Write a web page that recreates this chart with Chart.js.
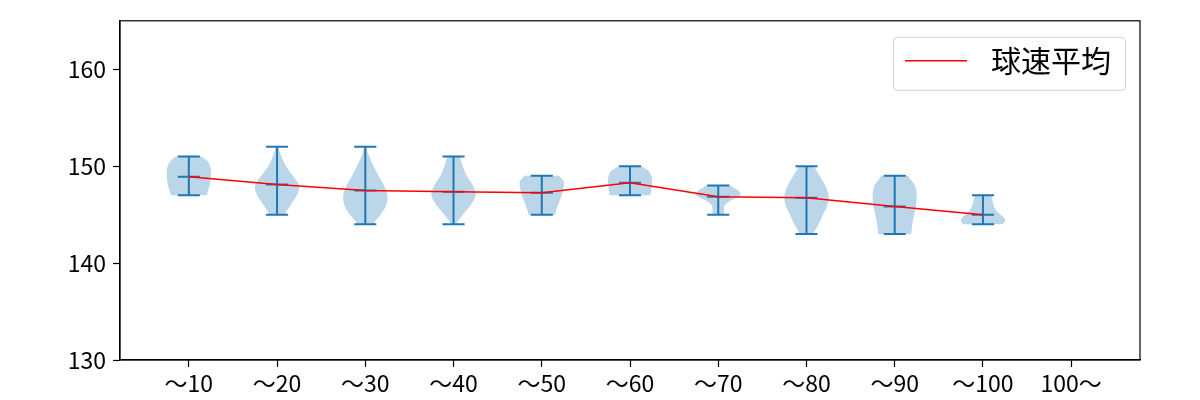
<!DOCTYPE html>
<html><head><meta charset="utf-8">
<script src="https://cdn.jsdelivr.net/npm/chart.js@4.4.1/dist/chart.umd.min.js"></script>
<style>html,body{margin:0;padding:0;background:#fff;}</style>
</head><body>
<canvas id="c" width="1200" height="400"></canvas>
<script>
const categories = ['〜10','〜20','〜30','〜40','〜50','〜60','〜70','〜80','〜90','〜100','100〜'];
const meanValues = [148.9, 148.1, 147.5, 147.35, 147.25, 148.3, 146.85, 146.75, 145.85, 145.0];
const minValues = [147, 145, 144, 144, 145, 147, 145, 143, 143, 144];
const maxValues = [151, 152, 152, 151, 149, 150, 148, 150, 149, 147];
// relative density, evenly spaced from min to max
const density1 = [0.82, 0.88, 0.94, 0.98, 1.0, 1.0, 0.96, 0.85, 0.6];
const density2 = [0.36, 0.62, 0.9, 1.0, 0.72, 0.4, 0.2, 0.07];
const density3 = [0.36, 0.7, 0.95, 1.0, 0.85, 0.6, 0.38, 0.18, 0.05];
const density4 = [0.12, 0.42, 0.78, 1.0, 0.88, 0.6, 0.42, 0.3];
const density5 = [0.6, 0.66, 0.74, 0.82, 0.9, 0.96, 1.0, 0.98, 0.8];
const density6 = [0.93, 0.96, 0.99, 1.0, 0.97, 0.85, 0.55];
const density7 = [0.27, 0.26, 0.3, 0.6, 1.0, 0.9, 0.55];
const density8 = [0.32, 0.55, 0.75, 0.95, 1.0, 0.85, 0.6, 0.36];
const density9 = [0.75, 0.8, 0.88, 0.97, 1.0, 0.92, 0.62];
const density10 = [0.92, 1.0, 0.8, 0.58, 0.48, 0.42, 0.38];
const densities = [density1, density2, density3, density4, density5, density6, density7, density8, density9, density10];
const yTicks = [130, 140, 150, 160];
const seriesLabel = '球速平均';

const FONT = '"Noto Sans CJK JP", "Noto Sans", sans-serif';

const violinPlugin = {
  id: 'violins',
  beforeDatasetsDraw(chart) {
    const {ctx, scales: {x, y}, chartArea} = chart;
    ctx.save();
    ctx.beginPath();
    ctx.rect(chartArea.left, chartArea.top, chartArea.right - chartArea.left, chartArea.bottom - chartArea.top);
    ctx.clip();
    densities.forEach((dens, i) => {
      const pos = i + 1;
      const cx = x.getPixelForValue(pos);
      const halfMax = x.getPixelForValue(pos + 0.25) - cx;
      const n = dens.length;
      const pts = dens.map((d, k) => {
        const v = minValues[i] + (maxValues[i] - minValues[i]) * k / (n - 1);
        return {w: d * halfMax, py: y.getPixelForValue(v)};
      });
      const fine = [];
      const steps = 12;
      for (let k = 0; k < n - 1; k++) {
        const p0 = pts[Math.max(k - 1, 0)], p1 = pts[k], p2 = pts[k + 1], p3 = pts[Math.min(k + 2, n - 1)];
        for (let s = 0; s < steps; s++) {
          const t = s / steps, t2 = t * t, t3 = t2 * t;
          const f = (a, b, c, d) => 0.5 * ((2 * b) + (-a + c) * t + (2 * a - 5 * b + 4 * c - d) * t2 + (-a + 3 * b - 3 * c + d) * t3);
          fine.push({w: Math.max(0, f(p0.w, p1.w, p2.w, p3.w)), py: p1.py + (p2.py - p1.py) * t});
        }
      }
      fine.push(pts[n - 1]);
      ctx.beginPath();
      fine.forEach((p, k) => { if (k) ctx.lineTo(cx + p.w, p.py); else ctx.moveTo(cx + p.w, p.py); });
      for (let k = fine.length - 1; k >= 0; k--) ctx.lineTo(cx - fine[k].w, fine[k].py);
      ctx.closePath();
      ctx.fillStyle = 'rgba(31,119,180,0.3)';
      ctx.fill();
    });
    ctx.strokeStyle = '#1f77b4';
    ctx.lineWidth = 2;
    densities.forEach((dens, i) => {
      const pos = i + 1;
      const cx = x.getPixelForValue(pos);
      const capL = x.getPixelForValue(pos - 0.125), capR = x.getPixelForValue(pos + 0.125);
      const yMin = y.getPixelForValue(minValues[i]), yMax = y.getPixelForValue(maxValues[i]);
      const yMean = y.getPixelForValue(meanValues[i]);
      ctx.beginPath();
      ctx.moveTo(cx, yMin); ctx.lineTo(cx, yMax);
      ctx.moveTo(capL, yMin); ctx.lineTo(capR, yMin);
      ctx.moveTo(capL, yMax); ctx.lineTo(capR, yMax);
      ctx.moveTo(capL, yMean); ctx.lineTo(capR, yMean);
      ctx.stroke();
    });
    ctx.restore();
  },
  afterDraw(chart) {
    const {ctx, chartArea} = chart;
    ctx.save();
    ctx.strokeStyle = '#000';
    ctx.lineWidth = 1.2;
    ctx.strokeRect(chartArea.left, chartArea.top, chartArea.right - chartArea.left, chartArea.bottom - chartArea.top);
    // legend
    const ds = chart.data.datasets[0];
    const bx = chartArea.right - 247, by = chartArea.top + 16, bw = 232, bh = 53;
    ctx.beginPath();
    ctx.roundRect(bx + 0.5, by + 0.5, bw, bh, 4);
    ctx.fillStyle = 'rgba(255,255,255,0.8)';
    ctx.fill();
    ctx.strokeStyle = '#d0d0d0';
    ctx.lineWidth = 1;
    ctx.stroke();
    ctx.beginPath();
    ctx.strokeStyle = ds.borderColor;
    ctx.lineWidth = 1.5;
    ctx.moveTo(bx + 12, by + 24); ctx.lineTo(bx + 74, by + 24);
    ctx.stroke();
    ctx.fillStyle = '#000';
    ctx.font = '30px ' + FONT;
    ctx.textBaseline = 'middle';
    ctx.textAlign = 'left';
    ctx.fillText(ds.label, bx + 98, by + 24);
    ctx.restore();
  }
};

new Chart(document.getElementById('c'), {
  type: 'line',
  data: {
    datasets: [{
      label: seriesLabel,
      data: meanValues.map((v, i) => ({x: i + 1, y: v})),
      borderColor: '#ff0000',
      borderWidth: 1.5,
      pointRadius: 0,
      tension: 0,
      fill: false
    }]
  },
  options: {
    responsive: false,
    animation: false,
    devicePixelRatio: 1,
    layout: {padding: {top: 20, right: 60, left: 0, bottom: 0}},
    plugins: {legend: {display: false}, tooltip: {enabled: false}},
    scales: {
      x: {
        type: 'linear',
        min: 0.22, max: 11.78,
        afterBuildTicks: s => { s.ticks = categories.map((c, i) => ({value: i + 1})); },
        afterFit: s => { s.height = 40; },
        ticks: {
          autoSkip: false, maxRotation: 0, color: '#000', padding: 2,
          font: {family: FONT, size: 23},
          callback: v => categories[Math.round(v) - 1]
        },
        grid: {drawOnChartArea: false, drawTicks: true, tickLength: 7, color: '#000', tickWidth: 1.2},
        border: {display: true, color: '#000', width: 1.2}
      },
      y: {
        min: 130, max: 165,
        afterBuildTicks: s => { s.ticks = yTicks.map(v => ({value: v})); },
        afterFit: s => { s.width = 120; },
        ticks: {color: '#000', padding: 7, font: {family: FONT, size: 23}},
        grid: {drawOnChartArea: false, drawTicks: true, tickLength: 7, color: '#000', tickWidth: 1.2},
        border: {display: true, color: '#000', width: 1.2}
      }
    }
  },
  plugins: [violinPlugin]
});
</script>
</body></html>
